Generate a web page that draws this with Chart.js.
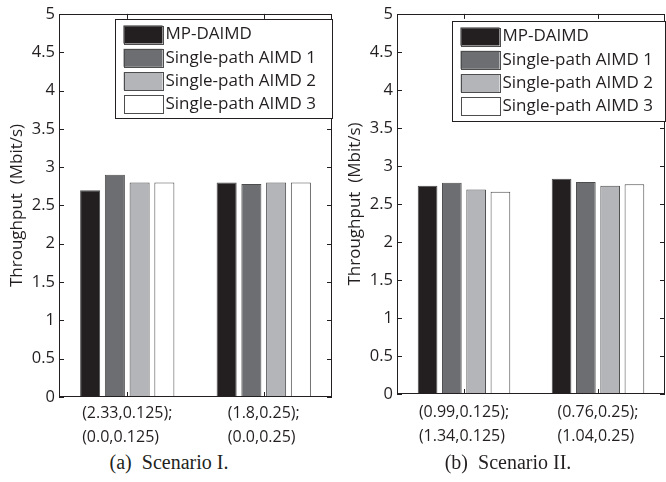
<!DOCTYPE html>
<html>
<head>
<meta charset="utf-8">
<script src="https://cdn.jsdelivr.net/npm/chart.js@4.4.1/dist/chart.umd.min.js"></script>
<style>
  html, body { margin: 0; padding: 0; background: #fff; }
  #page { position: relative; width: 666px; height: 482px; overflow: hidden; }
  .panel { position: absolute; top: 0; }
  .caption {
    position: absolute; width: 300px; text-align: center;
    font-family: 'Liberation Serif', 'Times New Roman', serif;
    font-size: 20px; color: #231f20; white-space: pre;
  }
</style>
</head>
<body>
<div id="page">
  <canvas id="chartA" class="panel" style="left:0px" width="340" height="450"></canvas>
  <canvas id="chartB" class="panel" style="left:338px" width="328" height="450"></canvas>
  <div class="caption" style="left:19px; top:451px">(a)  Scenario I.</div>
  <div class="caption" style="left:358px; top:451px">(b)  Scenario II.</div>
</div>
<script>
// data
const seriesNames = ['MP-DAIMD', 'Single-path AIMD 1', 'Single-path AIMD 2', 'Single-path AIMD 3']
const seriesColors = ['#231f20', '#6d6e71', '#b3b5b8', '#ffffff']

const categoriesA = [['(2.33,0.125);', '(0.0,0.125)'], ['(1.8,0.25);', '(0.0,0.25)']]
const categoriesB = [['(0.99,0.125);', '(1.34,0.125)'], ['(0.76,0.25);', '(1.04,0.25)']]

// one array per series, one value per category
const mpDaimdA = [2.70, 2.80]
const aimd1A = [2.90, 2.78]
const aimd2A = [2.80, 2.80]
const aimd3A = [2.80, 2.80]

const mpDaimdB = [2.74, 2.83]
const aimd1B = [2.78, 2.79]
const aimd2B = [2.69, 2.74]
const aimd3B = [2.66, 2.76]

const yTicksMin = 0
const yTicksMax = 5
const yTickStep = 0.5

const ink = '#231f20'
Chart.defaults.font.family = "'Open Sans', 'Noto Sans', sans-serif"
Chart.defaults.color = ink

// matlab-like box, inward ticks, x labels and legend
const matlabBox = {
  id: 'matlabBox',
  afterDatasetsDraw(chart, args, opts) {
    const { ctx, chartArea: a, scales: { x, y } } = chart
    ctx.save()
    ctx.strokeStyle = ink
    ctx.lineWidth = 1

    ctx.beginPath()
    y.ticks.forEach(t => {
      const py = Math.round(y.getPixelForValue(t.value)) + 0.5
      ctx.moveTo(a.left, py); ctx.lineTo(a.left + 5, py)
      ctx.moveTo(a.right, py); ctx.lineTo(a.right - 5, py)
    })
    x.ticks.forEach((t, i) => {
      const px = Math.round(x.getPixelForTick(i)) + 0.5
      ctx.moveTo(px, a.top); ctx.lineTo(px, a.top + 5)
      ctx.moveTo(px, a.bottom); ctx.lineTo(px, a.bottom - 5)
    })
    ctx.stroke()
    ctx.strokeRect(Math.round(a.left) + 0.5, Math.round(a.top) + 0.5,
      Math.round(a.right - a.left) - 1, Math.round(a.bottom - a.top) - 1)

    // category labels: lines left-aligned, block centred on the tick
    ctx.fillStyle = ink
    ctx.font = "16px 'Open Sans'"
    ctx.textBaseline = 'middle'
    ctx.textAlign = 'left'
    chart.data.labels.forEach((lines, i) => {
      const px = x.getPixelForTick(i)
      const w = Math.max(...lines.map(l => ctx.measureText(l).width))
      lines.forEach((l, j) => {
        ctx.fillText(l, px - w / 2, a.bottom + opts.labelOffset + j * 24)
      })
    })

    // legend box in the upper right
    const bx = Math.round(a.right - opts.legendWidth) + 0.5
    const by = Math.round(a.top + opts.legendTop) + 0.5
    ctx.fillStyle = '#fff'
    ctx.fillRect(bx, by, opts.legendWidth, opts.legendHeight)
    ctx.strokeRect(bx, by, opts.legendWidth, opts.legendHeight)
    ctx.font = "17px 'Open Sans'"
    chart.data.datasets.forEach((ds, i) => {
      const sy = by + 6 + i * 23.3
      ctx.fillStyle = ds.backgroundColor
      ctx.fillRect(bx + 8, sy, 39, 18)
      ctx.strokeStyle = '#4d4d4d'
      ctx.strokeRect(Math.round(bx + 8) + 0.5, Math.round(sy) + 0.5, 39, 18)
      ctx.fillStyle = ink
      ctx.fillText(ds.label, bx + 50, sy + 9)
    })
    ctx.restore()
  },
}

function makeChart(canvas, labels, values, pad, xHeight, extra) {
  return new Chart(canvas, {
    type: 'bar',
    data: {
      labels,
      datasets: values.map((v, i) => ({
        label: seriesNames[i],
        data: v,
        backgroundColor: seriesColors[i],
        borderColor: '#4d4d4d',
        borderWidth: 1,
        categoryPercentage: 0.725,
        barPercentage: 0.81,
      })),
    },
    options: {
      responsive: false,
      animation: false,
      devicePixelRatio: 1,
      layout: { padding: pad },
      plugins: {
        legend: { display: false },
        tooltip: { enabled: false },
        matlabBox: extra,
      },
      scales: {
        x: {
          grid: { display: false },
          border: { display: false },
          ticks: { display: false },
          afterFit: s => { s.height = xHeight },
        },
        y: {
          min: yTicksMin,
          max: yTicksMax,
          grid: { display: false, drawTicks: false },
          border: { display: false },
          ticks: {
            stepSize: yTickStep,
            padding: 4,
            font: { size: 16.5 },
            color: ink,
            callback: v => String(Math.round(v * 10) / 10),
          },
          title: {
            display: true,
            text: 'Throughput  (Mbit/s)',
            font: { size: 17 },
            color: ink,
            padding: { top: 7, bottom: 0 },
          },
          afterFit: s => { s.width = 59 },
        },
      },
    },
    plugins: [matlabBox],
  })
}

makeChart(document.getElementById('chartA'), categoriesA,
  [mpDaimdA, aimd1A, aimd2A, aimd3A],
  { top: 12, right: 8, left: 0, bottom: 0 }, 53,
  { labelOffset: 16, legendWidth: 217, legendHeight: 99, legendTop: 5 })

makeChart(document.getElementById('chartB'), categoriesB,
  [mpDaimdB, aimd1B, aimd2B, aimd3B],
  { top: 7, right: 1, left: 0, bottom: 0 }, 56,
  { labelOffset: 18, legendWidth: 213, legendHeight: 100, legendTop: 7 })
</script>
</body>
</html>
